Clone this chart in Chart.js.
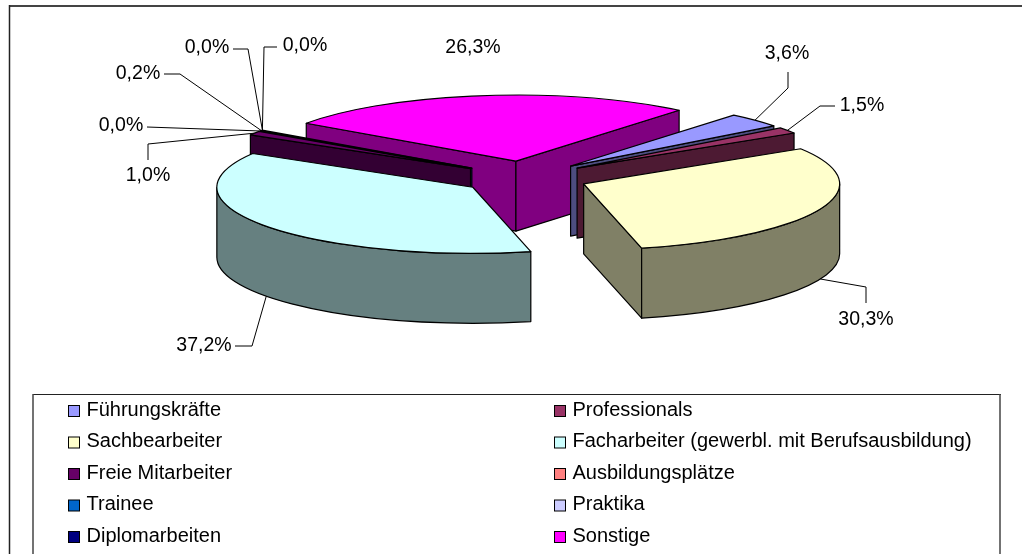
<!DOCTYPE html>
<html>
<head>
<meta charset="utf-8">
<style>
  html, body { margin: 0; padding: 0; background: #fff; overflow: hidden; }
  canvas { display: block; }
</style>
<script src="https://cdn.jsdelivr.net/npm/chart.js@4"></script>
</head>
<body>
<canvas id="chart" width="1022" height="554"></canvas>
<script>
const categories = ['Führungskräfte', 'Professionals', 'Sachbearbeiter', 'Facharbeiter (gewerbl. mit Berufsausbildung)',
    'Freie Mitarbeiter', 'Ausbildungsplätze', 'Trainee', 'Praktika', 'Diplomarbeiten', 'Sonstige'];
const shares = [3.6, 1.5, 30.3, 37.2, 1.0, 0.0, 0.2, 0.0, 0.0, 26.3];
const colors = ['#9999FF', '#993366', '#FFFFCC', '#CCFFFF', '#660066', '#FF8080', '#0066CC', '#CCCCFF', '#000080', '#FF00FF'];

const labelFont = '19.5px "Liberation Sans", Arial, sans-serif';
const legendFont = '20px "Liberation Sans", Arial, sans-serif';
const tilt = 0.258;     // flattening of the pie
const depth = 70;       // height of the 3d wall
const explode = 64;     // every slice is pulled out by the same distance

// label position + leader elbows, one entry per slice
const labelSpots = [
    { x: 787, y: 54, elbow: [[788, 72], [788, 88]] },
    { x: 862, y: 106, elbow: [[835, 106], [820, 106]] },
    { x: 866, y: 320, elbow: [[866, 303], [866, 287]] },
    { x: 204, y: 346, elbow: [[235, 346], [252, 346]] },
    { x: 148, y: 176, elbow: [[148, 160], [148, 144]] },
    { x: 121, y: 126, elbow: [[147, 127]] },
    { x: 138, y: 74, elbow: [[164, 74], [180, 74]] },
    { x: 207, y: 48, elbow: [[233, 49], [248, 49]] },
    { x: 305, y: 46, elbow: [[277, 47], [264, 47]] },
    { x: 473, y: 48, elbow: null },
];

function darken(hex) {
    const n = parseInt(hex.slice(1), 16);
    const half = (v) => Math.round(v / 2);
    return `rgb(${half(n >> 16)}, ${half((n >> 8) & 255)}, ${half(n & 255)})`;
}

// where a slice's apex ends up once it is exploded and flattened
function apexOf(arc) {
    const mid = (arc.startAngle + arc.endAngle) / 2;
    return { x: arc.x + Math.cos(mid) * explode, y: arc.y + Math.sin(mid) * explode * tilt };
}

function rimPoint(arc, angle) {
    const a = apexOf(arc);
    return { x: a.x + Math.cos(angle) * arc.outerRadius, y: a.y + Math.sin(angle) * arc.outerRadius * tilt };
}

function paintPath(ctx, fill) {
    ctx.fillStyle = fill;
    ctx.fill();
    ctx.strokeStyle = '#000';
    ctx.lineWidth = 1.2;
    ctx.lineJoin = 'round';
    ctx.stroke();
}

function drawEdgeWall(ctx, arc, angle, fill) {
    const a = apexOf(arc);
    const p = rimPoint(arc, angle);
    ctx.beginPath();
    ctx.moveTo(a.x, a.y);
    ctx.lineTo(p.x, p.y);
    ctx.lineTo(p.x, p.y + depth);
    ctx.lineTo(a.x, a.y + depth);
    ctx.closePath();
    paintPath(ctx, fill);
}

function drawRimWall(ctx, arc, from, to, fill) {
    const a = apexOf(arc);
    const r = arc.outerRadius;
    ctx.beginPath();
    ctx.ellipse(a.x, a.y, r, r * tilt, 0, from, to);
    ctx.ellipse(a.x, a.y + depth, r, r * tilt, 0, to, from, true);
    ctx.closePath();
    paintPath(ctx, fill);
}

function drawSlice(ctx, arc, index) {
    const { startAngle: start, endAngle: end, outerRadius: r } = arc;
    if (end - start <= 0) return;
    const wall = darken(colors[index]);
    const a = apexOf(arc);

    // radial walls, only the ones facing the viewer
    if (Math.sin(start - Math.PI / 2) > 0) drawEdgeWall(ctx, arc, start, wall);
    if (Math.sin(end + Math.PI / 2) > 0) drawEdgeWall(ctx, arc, end, wall);

    // outer wall: the part of the rim on the front half
    const TAU = Math.PI * 2;
    for (let k = -1; k <= 1; k++) {
        const from = Math.max(start, k * TAU);
        const to = Math.min(end, k * TAU + Math.PI);
        if (to > from) drawRimWall(ctx, arc, from, to, wall);
    }

    // top face: filled by the arc element itself under a flattening transform
    ctx.save();
    ctx.translate(a.x, a.y);
    ctx.scale(1, tilt);
    ctx.translate(-arc.x, -arc.y);
    arc.draw(ctx);
    ctx.restore();

    ctx.beginPath();
    ctx.moveTo(a.x, a.y);
    ctx.ellipse(a.x, a.y, r, r * tilt, 0, start, end);
    ctx.closePath();
    ctx.strokeStyle = '#000';
    ctx.lineWidth = 1.2;
    ctx.lineJoin = 'round';
    ctx.stroke();
}

function line(ctx, x1, y1, x2, y2, width, color) {
    ctx.beginPath();
    ctx.moveTo(x1, y1);
    ctx.lineTo(x2, y2);
    ctx.lineWidth = width;
    ctx.strokeStyle = color;
    ctx.stroke();
}

const frame3d = {
    id: 'frame3d',
    beforeDraw(chart) {
        const ctx = chart.ctx;
        ctx.save();
        // the picture is cropped: outer frame has only top and left sides in view
        line(ctx, 9, 6, 1022, 6, 2, '#444');
        line(ctx, 9.5, 5, 9.5, 554, 1.5, '#222');
        // legend box, bottom edge falls outside the picture
        line(ctx, 33, 394.5, 1001, 394.5, 1, '#222');
        line(ctx, 33, 394, 33, 554, 1.5, '#444');
        line(ctx, 1000, 394, 1000, 554, 1.5, '#444');
        ctx.font = legendFont;
        ctx.textBaseline = 'middle';
        categories.forEach((name, i) => {
            const col = i % 2;
            const row = Math.floor(i / 2);
            const x = col ? 554 : 68;
            const y = 411 + row * 31.5;
            ctx.fillStyle = colors[i];
            ctx.fillRect(x + 0.5, y - 5.5, 11, 11);
            ctx.strokeStyle = '#000';
            ctx.lineWidth = 1;
            ctx.strokeRect(x + 0.5, y - 5.5, 11, 11);
            ctx.fillStyle = '#000';
            ctx.fillText(name, x + 18.5, y - 1);
        });
        ctx.restore();
    },
    beforeDatasetDraw(chart, args) {
        const ctx = chart.ctx;
        const arcs = args.meta.data;
        // painter's order: back slices first
        const order = arcs.map((arc, i) => i).sort((i, j) => {
            const m = (arc) => Math.sin((arc.startAngle + arc.endAngle) / 2);
            return m(arcs[i]) - m(arcs[j]);
        });
        order.forEach((i) => drawSlice(ctx, arcs[i], i));
        return false;
    },
    afterDatasetsDraw(chart) {
        const ctx = chart.ctx;
        const arcs = chart.getDatasetMeta(0).data;
        ctx.save();
        ctx.font = labelFont;
        ctx.textAlign = 'center';
        ctx.textBaseline = 'middle';
        arcs.forEach((arc, i) => {
            const spot = labelSpots[i];
            const mid = (arc.startAngle + arc.endAngle) / 2;
            if (spot.elbow) {
                const p = rimPoint(arc, mid);
                if (Math.sin(mid) > 0) p.y += depth;
                ctx.beginPath();
                spot.elbow.forEach(([x, y], n) => (n ? ctx.lineTo(x, y) : ctx.moveTo(x, y)));
                ctx.lineTo(p.x, p.y);
                ctx.strokeStyle = '#000';
                ctx.lineWidth = 1;
                ctx.stroke();
            }
            ctx.fillStyle = '#000';
            ctx.fillText(shares[i].toFixed(1).replace('.', ',') + '%', spot.x, spot.y);
        });
        ctx.restore();
    },
};

new Chart(document.getElementById('chart'), {
    type: 'pie',
    data: {
        labels: categories,
        datasets: [{
            data: shares,
            backgroundColor: colors,
            borderWidth: 0,
        }],
    },
    options: {
        responsive: false,
        animation: false,
        events: [],
        radius: 256,
        rotation: 39.6,
        layout: { padding: { left: 27, bottom: 199 } },
        plugins: { legend: { display: false }, tooltip: { enabled: false } },
    },
    plugins: [frame3d],
});
</script>
</body>
</html>
